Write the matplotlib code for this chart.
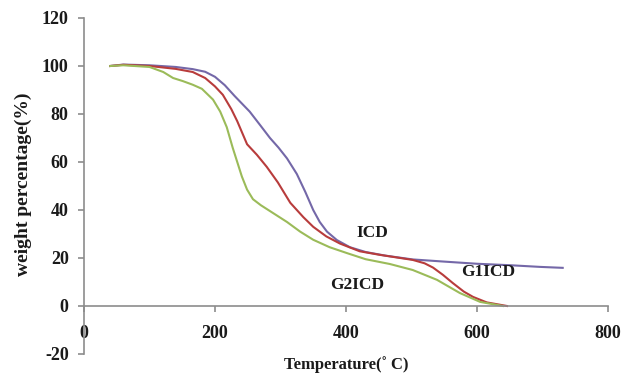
import matplotlib
matplotlib.use("Agg")
import matplotlib.pyplot as plt

plt.rcParams["axes.unicode_minus"] = False

# TGA curves: temperature (C) vs weight (%)
icd_t = [40, 60, 100, 140, 166, 185, 200, 215, 230, 253, 270, 284, 297, 310, 325,
         338, 350, 360, 371, 386, 406, 430, 460, 502, 550, 600, 650, 696, 731]
icd_w = [100, 100.6, 100.3, 99.6, 98.7, 97.6, 95.5, 92, 87.5, 81, 75, 70, 66, 61.5, 55,
         47.5, 40, 35, 31, 27.5, 24.5, 22.5, 21, 19.4, 18.5, 17.6, 17, 16.3, 15.9]

g1_t = [40, 60, 100, 140, 166, 185, 200, 212, 225, 234, 249, 264, 279, 296, 315,
        335, 350, 370, 391, 421, 452, 502, 520, 533, 548, 563, 580, 594, 615, 646]
g1_w = [100, 100.5, 100, 98.8, 97.5, 95, 91.5, 88, 82, 77, 67.4, 63, 58, 51.5, 43,
        37, 33, 29, 26, 22.8, 21.3, 19.2, 17.8, 16, 13, 9.6, 6, 3.8, 1.5, 0]

g2_t = [40, 60, 100, 121, 136, 151, 166, 180, 197, 208, 218, 227, 234, 241, 249,
        258, 270, 290, 310, 330, 350, 375, 402, 430, 467, 502, 539, 574, 605, 640]
g2_w = [100, 100.3, 99.6, 97.5, 95, 93.7, 92.2, 90.5, 86, 81, 74.5, 66, 60, 54, 48.5,
        44.5, 42, 38.5, 35, 31, 27.6, 24.5, 22, 19.5, 17.5, 15, 10.9, 5.4, 1.7, 0]

xticks = [0, 200, 400, 600, 800]
yticks = [-20, 0, 20, 40, 60, 80, 100, 120]

serif = {"family": "Liberation Serif", "weight": "bold"}
axis_grey = "#8c8c8c"
ink = "#1a1a1a"

fig = plt.figure(figsize=(6.35, 3.75), dpi=100)
ax = fig.add_axes([0.1323, 0.056, 0.825, 0.896])

ax.plot(icd_t, icd_w, color="#7468a8", lw=1.5)
ax.plot(g1_t, g1_w, color="#b83c3c", lw=1.5)
ax.plot(g2_t, g2_w, color="#9bbb59", lw=1.5)

ax.set_xlim(0, 800)
ax.set_ylim(-20, 120)
ax.set_xticks(xticks)
ax.set_yticks(yticks)

for s in ["top", "right"]:
    ax.spines[s].set_visible(False)
ax.spines["bottom"].set_position(("data", 0))
for s in ["left", "bottom"]:
    ax.spines[s].set_color(axis_grey)
    ax.spines[s].set_linewidth(1.2)

ax.tick_params(axis="both", colors=axis_grey, length=4, width=1.2, direction="out")
ax.tick_params(axis="x", pad=10)
ax.tick_params(axis="y", pad=7)
for lab in ax.get_xticklabels() + ax.get_yticklabels():
    lab.set_fontfamily("Liberation Serif")
    lab.set_fontweight("bold")
    lab.set_fontsize(13)
    lab.set_color(ink)

ax.text(440, 30.5, "ICD", fontsize=12.5, ha="center", va="center", color=ink, **serif)
ax.text(617, 14.2, "G1ICD", fontsize=12.5, ha="center", va="center", color=ink, **serif)
ax.text(417, 8.8, "G2ICD", fontsize=12.5, ha="center", va="center", color=ink, **serif)

fig.text(0.546, 0.027, "Temperature(\u02da C)", fontsize=12, ha="center", va="center",
         color=ink, **serif)
fig.text(0.036, 0.509, "weight percentage(%)", fontsize=14, ha="center", va="center",
         rotation=90, color=ink, **serif)

fig.savefig("out.png", dpi=100)
